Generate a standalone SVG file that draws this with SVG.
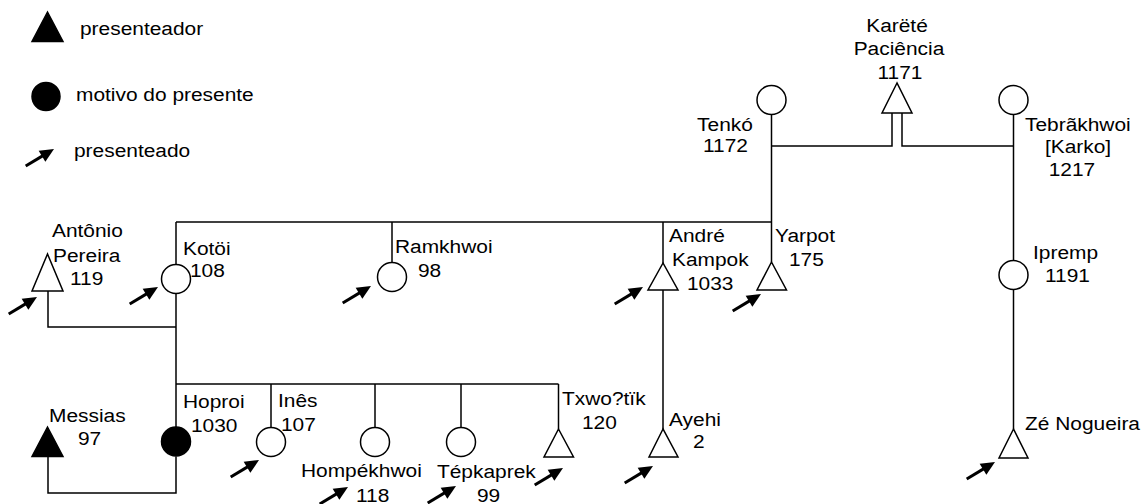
<svg xmlns="http://www.w3.org/2000/svg" xmlns:xlink="http://www.w3.org/1999/xlink" width="1147" height="504" viewBox="0 0 1147 504">
<style>
text{font-family:"Liberation Sans",Arial,sans-serif;font-size:19px;fill:#000}
.c{text-anchor:middle}
.o{fill:#fff;stroke:#000;stroke-width:1.5}
.f{fill:#000;stroke:#000;stroke-width:1.5}
#links path{fill:none;stroke:#000;stroke-width:1.5}
</style>
<defs>
<g id="arr"><line x1="-33" y1="0" x2="-9" y2="0" stroke="#000" stroke-width="3"/><polygon points="0,0 -14,-6.5 -14,6.5" fill="#000"/></g>
</defs>
<rect width="1147" height="504" fill="#fff"/>
<g id="legend">
<polygon class="f" points="47.5,12 32,41.5 63,41.5"/>
<text transform="scale(1.1,1)" x="72.73" y="35">presenteador</text>
<circle class="f" cx="46" cy="96.5" r="14"/>
<text transform="scale(1.1,1)" x="69.09" y="101">motivo do presente</text>
<use xlink:href="#arr" transform="translate(54,149) rotate(-31)"/>
<text transform="scale(1.1,1)" x="67.27" y="157">presenteado</text>
</g>
<g id="links">
<path d="M48,291 V327 H176"/>
<path d="M176,222 V264.5"/>
<path d="M176,293.5 V427.5"/>
<path d="M176,222 H771.5"/>
<path d="M392,222 V262.5"/>
<path d="M663,222 V263"/>
<path d="M771.5,114.5 V262"/>
<path d="M892,113 V146 H771.5"/>
<path d="M902,113 V146 H1013.5"/>
<path d="M1013.5,114.5 V260.5"/>
<path d="M1013.5,289.5 V429"/>
<path d="M663,290 V429"/>
<path d="M176,384 H558.5"/>
<path d="M271,384 V427.5"/>
<path d="M375,384 V427.5"/>
<path d="M461,384 V427.5"/>
<path d="M558.5,384 V429"/>
<path d="M176,456.5 V493 H48 V457"/>
</g>
<g id="tenko"><circle class="o" cx="771.5" cy="100" r="14.5"/><text class="c" transform="scale(1.1,1)" x="659.09" y="131">Tenkó</text><text class="c" transform="scale(1.1,1)" x="659.55" y="152">1172</text></g>
<g id="karete"><polygon class="o" points="897,83 882,113 912,113"/><text class="c" transform="scale(1.1,1)" x="815.45" y="32">Karëté</text><text class="c" transform="scale(1.1,1)" x="817.27" y="55">Paciência</text><text class="c" transform="scale(1.1,1)" x="818.18" y="79">1171</text></g>
<g id="tebrakhwoi"><circle class="o" cx="1013.5" cy="100" r="14.5"/><text transform="scale(1.1,1)" x="931.82" y="131">Tebrãkhwoi</text><text class="c" transform="scale(1.1,1)" x="980" y="153">[Karko]</text><text class="c" transform="scale(1.1,1)" x="974.55" y="176">1217</text></g>
<g id="antonio"><polygon class="o" points="47.5,254 32,291 63,291"/><text transform="scale(1.1,1)" x="47.27" y="237">Antônio</text><text transform="scale(1.1,1)" x="48.18" y="262">Pereira</text><text transform="scale(1.1,1)" x="63.64" y="285">119</text><use xlink:href="#arr" transform="translate(37,297) rotate(-31)"/></g>
<g id="kotoi"><circle class="o" cx="176" cy="279" r="14.5"/><text transform="scale(1.1,1)" x="166.36" y="255">Kotöi</text><text transform="scale(1.1,1)" x="172.73" y="277">108</text><use xlink:href="#arr" transform="translate(158,287) rotate(-31)"/></g>
<g id="ramkhwoi"><circle class="o" cx="392" cy="277" r="14.5"/><text transform="scale(1.1,1)" x="359.09" y="253">Ramkhwoi</text><text transform="scale(1.1,1)" x="380" y="277">98</text><use xlink:href="#arr" transform="translate(371,286) rotate(-31)"/></g>
<g id="andre"><polygon class="o" points="663,263 648,290 678,290"/><text transform="scale(1.1,1)" x="608.18" y="242">André</text><text transform="scale(1.1,1)" x="610.91" y="266">Kampok</text><text transform="scale(1.1,1)" x="624.55" y="290">1033</text><use xlink:href="#arr" transform="translate(643,287) rotate(-31)"/></g>
<g id="yarpot"><polygon class="o" points="771.5,262 757,290 786.5,290"/><text transform="scale(1.1,1)" x="704.55" y="242">Yarpot</text><text transform="scale(1.1,1)" x="717.27" y="266">175</text><use xlink:href="#arr" transform="translate(761,294) rotate(-31)"/></g>
<g id="ipremp"><circle class="o" cx="1013.5" cy="275" r="14.5"/><text transform="scale(1.1,1)" x="939.09" y="259">Ipremp</text><text transform="scale(1.1,1)" x="950" y="282">1191</text></g>
<g id="messias"><polygon class="f" points="47.5,427 32,456.5 63,456.5"/><text transform="scale(1.1,1)" x="44.55" y="422">Messias</text><text transform="scale(1.1,1)" x="70.91" y="445">97</text></g>
<g id="hoproi"><circle class="f" cx="176" cy="441.5" r="14.5"/><text transform="scale(1.1,1)" x="166.36" y="408">Hoproi</text><text transform="scale(1.1,1)" x="173.64" y="432">1030</text></g>
<g id="ines"><circle class="o" cx="271" cy="442" r="14.5"/><text transform="scale(1.1,1)" x="252.73" y="407">Inês</text><text transform="scale(1.1,1)" x="255.45" y="431">107</text><use xlink:href="#arr" transform="translate(259,460) rotate(-31)"/></g>
<g id="hompekhwoi"><circle class="o" cx="375" cy="442" r="14.5"/><text transform="scale(1.1,1)" x="273.64" y="477">Hompékhwoi</text><text transform="scale(1.1,1)" x="323.64" y="502">118</text><use xlink:href="#arr" transform="translate(348,487) rotate(-31)"/></g>
<g id="tepkaprek"><circle class="o" cx="461" cy="442" r="14.5"/><text transform="scale(1.1,1)" x="397.27" y="478">Tépkaprek</text><text transform="scale(1.1,1)" x="433.64" y="502">99</text><use xlink:href="#arr" transform="translate(456,486) rotate(-31)"/></g>
<g id="txwotik"><polygon class="o" points="558.5,429 544,457 573.5,457"/><text transform="scale(1.1,1)" x="510.91" y="405">Txwo?tïk</text><text transform="scale(1.1,1)" x="529.09" y="429">120</text><use xlink:href="#arr" transform="translate(563,468) rotate(-31)"/></g>
<g id="ayehi"><polygon class="o" points="663,429 649,457 678,457"/><text transform="scale(1.1,1)" x="608.18" y="426">Ayehi</text><text transform="scale(1.1,1)" x="630" y="448">2</text><use xlink:href="#arr" transform="translate(653,466) rotate(-31)"/></g>
<g id="ze"><polygon class="o" points="1013.5,429 999,458 1028,458"/><text transform="scale(1.1,1)" x="931.82" y="430">Zé Nogueira</text><use xlink:href="#arr" transform="translate(995,462) rotate(-31)"/></g>
</svg>
